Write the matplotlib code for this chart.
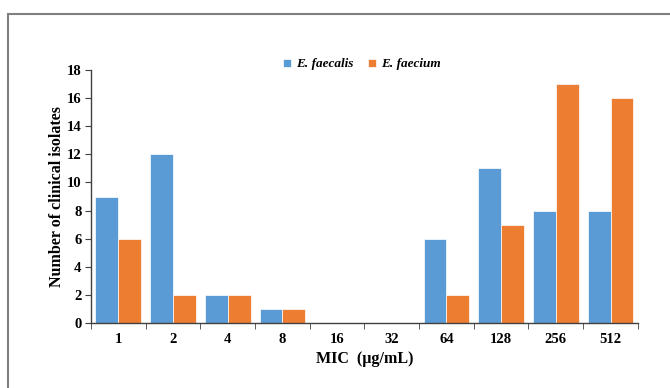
import matplotlib.pyplot as plt
import numpy as np
from matplotlib.patches import Rectangle

mic = ['1', '2', '4', '8', '16', '32', '64', '128', '256', '512']
faecalis = [9, 12, 2, 1, 0, 0, 6, 11, 8, 8]
faecium = [6, 2, 2, 1, 0, 0, 2, 7, 17, 16]

plt.rcParams['font.family'] = ['Liberation Serif', 'DejaVu Serif']
plt.rcParams['font.weight'] = 'bold'

fig = plt.figure(figsize=(6.7, 3.88), dpi=100)
ax = fig.add_axes([0.136, 0.1675, 0.816, 0.652])

x = np.arange(len(mic))
w = 0.42
ax.bar(x - w / 2, faecalis, w, color='#5B9BD5', edgecolor='white', linewidth=0.5, label='E. faecalis')
ax.bar(x + w / 2, faecium, w, color='#ED7D31', edgecolor='white', linewidth=0.5, label='E. faecium')

ax.set_xlim(-0.5, len(mic) - 0.5)
ax.set_ylim(0, 18)
ax.set_yticks(range(0, 19, 2))
ax.set_xticks(x)
ax.set_xticklabels(mic, fontsize=10.5, fontweight='bold')
ax.tick_params(axis='x', length=0, pad=7)
ax.set_xticks(np.arange(-0.5, len(mic)), minor=True)
ax.tick_params(axis='x', which='minor', length=4, direction='out', color='#404040')
ax.tick_params(axis='y', labelsize=10.5, length=4, color='#404040', pad=3)
for lab in ax.get_yticklabels():
    lab.set_fontweight('bold')

for s in ['top', 'right']:
    ax.spines[s].set_visible(False)
for s in ['left', 'bottom']:
    ax.spines[s].set_color('#404040')
    ax.spines[s].set_linewidth(1.0)

ax.set_xlabel('MIC  (µg/mL)', fontsize=11.5, fontweight='bold', labelpad=4)
ax.set_ylabel('Number of clinical isolates', fontsize=11.5, fontweight='bold', labelpad=1)

leg = fig.legend(loc='center', bbox_to_anchor=(0.54, 0.834), ncol=2, frameon=False,
                 prop={'style': 'italic', 'weight': 'bold', 'size': 9.5},
                 handlelength=0.6, handleheight=0.6, handletextpad=0.4, columnspacing=1.1)

fig.patches.append(Rectangle((0.012, -0.1), 1.1, 1.064, transform=fig.transFigure,
                             fill=False, edgecolor='#7f7f7f', linewidth=1.5))

fig.savefig('out.png', dpi=100)
